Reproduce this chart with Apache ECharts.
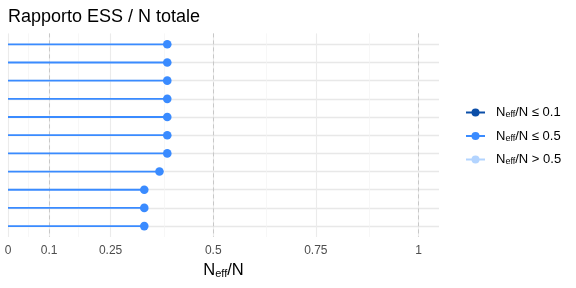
<!DOCTYPE html>
<html>
<head>
<meta charset="utf-8">
<script src="https://cdn.jsdelivr.net/npm/echarts@6/dist/echarts.min.js"></script>
<style>html,body{margin:0;padding:0;background:#fff}#c{width:576px;height:288px}</style>
</head>
<body>
<div id="c"></div>
<script>
// ---- data ----
var params = ['p1','p2','p3','p4','p5','p6','p7','p8','p9','p10','p11']; // top to bottom
var ratios = [0.388, 0.388, 0.388, 0.388, 0.388, 0.388, 0.388, 0.369, 0.332, 0.332, 0.332];
var tickLabels = [0, 0.1, 0.25, 0.5, 0.75, 1];
var minorTicks = [0.05, 0.175, 0.375, 0.625, 0.875];
var refLines = [0.1, 0.5, 1];
var legendNames = ['low', 'mid', 'high'];

var FONT = 'Liberation Sans, Arial, sans-serif';
var colors = { low: '#0b4ea8', mid: '#3a8bff', high: '#b3d4ff' };

function lollipops(cls) {
  var out = [];
  ratios.forEach(function (v, i) {
    var c = v <= 0.1 ? 'low' : (v <= 0.5 ? 'mid' : 'high');
    if (c !== cls) return;
    out.push([0, i]); out.push([v, i]); out.push(null);
  });
  return out;
}

var legendText = {
  low: 'N{sub|eff}/N ≤ 0.1',
  mid: 'N{sub|eff}/N ≤ 0.5',
  high: 'N{sub|eff}/N > 0.5'
};

var chart = echarts.init(document.getElementById('c'), null, { renderer: 'canvas' });

var lolliSeries = legendNames.map(function (cls) {
  return {
    name: cls,
    type: 'line',
    z: 5,
    data: lollipops(cls),
    connectNulls: false,
    symbol: 'circle',
    symbolSize: function (val) { return val && val[0] === 0 ? 0 : 8.6; },
    showSymbol: true,
    showAllSymbol: true,
    color: colors[cls],
    lineStyle: { color: colors[cls], width: 1.8 },
    itemStyle: { color: colors[cls] },
    emphasis: { disabled: true },
    silent: true
  };
});

var gridSeries = {
  name: 'grid',
  type: 'line',
  z: 1,
  data: [],
  silent: true,
  markLine: {
    silent: true,
    symbol: ['none', 'none'],
    label: { show: false },
    animation: false,
    data: [].concat(
      params.map(function (p, i) { return { yAxis: i, lineStyle: { color: '#e8e8e8', width: 1.3, type: 'solid' } }; }),
      minorTicks.map(function (t) { return { xAxis: t, lineStyle: { color: '#f3f3f3', width: 0.7, type: 'solid' } }; }),
      tickLabels.map(function (t) { return { xAxis: t, lineStyle: { color: '#ebebeb', width: 1.1, type: 'solid' } }; })
    )
  }
};

var refSeries = {
  name: 'ref',
  type: 'line',
  z: 2,
  data: [],
  silent: true,
  markLine: {
    silent: true,
    symbol: ['none', 'none'],
    label: { show: false },
    animation: false,
    data: refLines.map(function (t) { return { xAxis: t, lineStyle: { color: '#c4c4c4', width: 0.9, type: [4, 3] } }; })
  }
};

var option = {
  animation: false,
  backgroundColor: '#ffffff',
  title: {
    text: 'Rapporto ESS / N totale',
    left: 8, top: 8, padding: 0,
    textStyle: { fontFamily: FONT, fontSize: 18, fontWeight: 'normal', color: '#000' }
  },
  grid: { left: 8, right: 137, top: 33.4, bottom: 51, containLabel: false, outerBoundsMode: 'none' },
  xAxis: {
    type: 'value', min: 0, max: 1.05, interval: 0.05,
    axisLine: { show: false }, axisTick: { show: false }, splitLine: { show: false },
    axisLabel: {
      margin: 8, color: '#4d4d4d', fontSize: 12, fontFamily: FONT,
      showMaxLabel: true, showMinLabel: true, hideOverlap: false,
      formatter: function (v) {
        for (var k = 0; k < tickLabels.length; k++) {
          if (Math.abs(v - tickLabels[k]) < 1e-6) return String(tickLabels[k]);
        }
        return '';
      }
    },
    name: 'N{sub|eff}/N',
    nameLocation: 'middle',
    nameGap: 24,
    nameTextStyle: {
      fontFamily: FONT, fontSize: 16.5, color: '#000',
      rich: { sub: { fontFamily: FONT, fontSize: 11, color: '#000', verticalAlign: 'bottom', padding: [7, 0, 0, 0] } }
    }
  },
  yAxis: {
    type: 'value', min: -0.6, max: 10.6, inverse: true, show: false,
    splitLine: { show: false }
  },
  legend: {
    orient: 'vertical',
    left: 465, top: 106, padding: 0,
    itemWidth: 19, itemHeight: 10, itemGap: 10,
    selectedMode: false,
    data: legendNames,
    formatter: function (n) { return legendText[n]; },
    textStyle: {
      fontFamily: FONT, fontSize: 13, color: '#000', padding: [0, 0, 0, 6],
      rich: { sub: { fontFamily: FONT, fontSize: 9, color: '#000', verticalAlign: 'bottom', padding: [5, 0, 0, 0] } }
    }
  },
  series: [gridSeries, refSeries].concat(lolliSeries)
};
chart.setOption(option);
</script>
</body>
</html>
